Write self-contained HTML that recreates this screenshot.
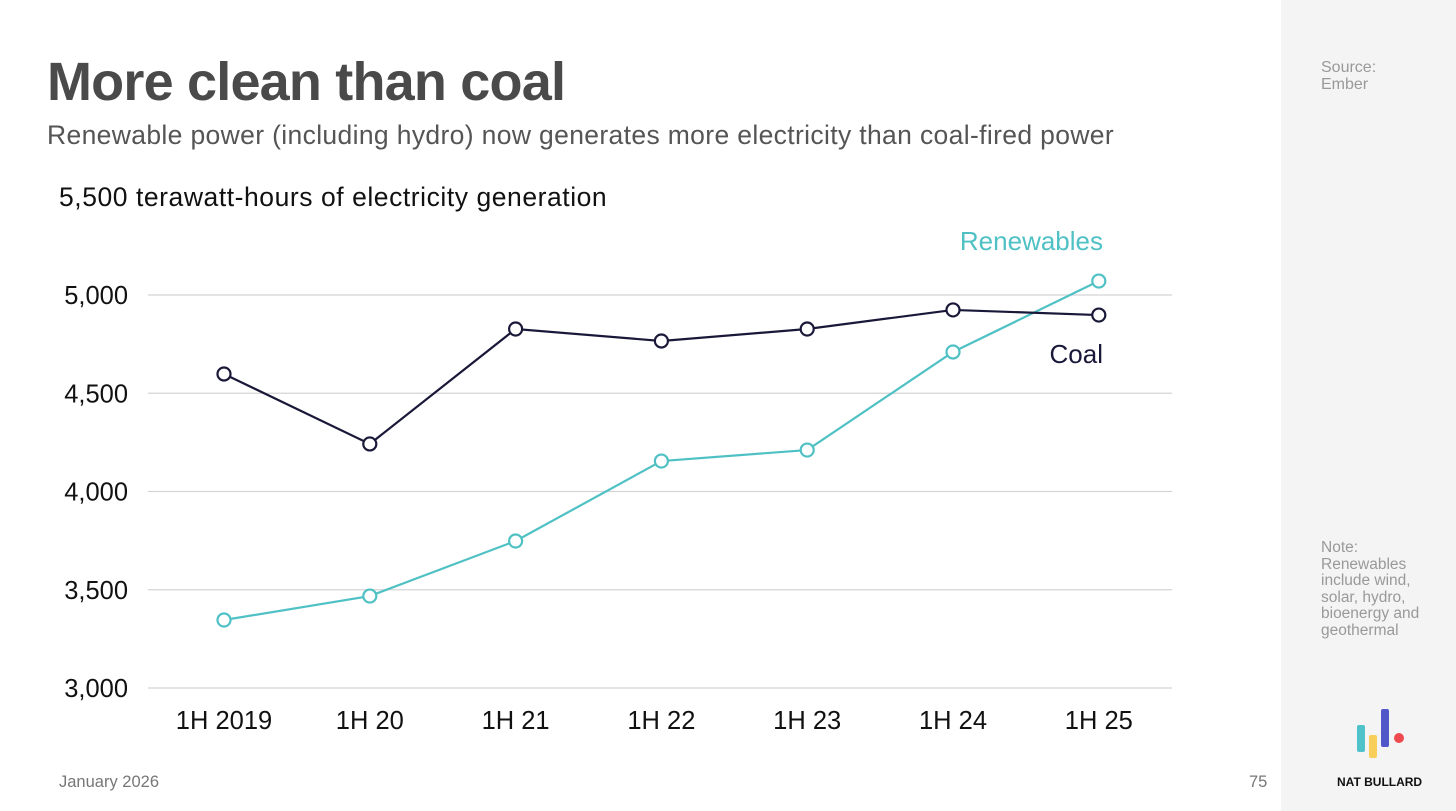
<!DOCTYPE html>
<html><head><meta charset="utf-8"><style>
body{margin:0;width:1456px;height:811px;overflow:hidden;background:#fff;font-family:"Liberation Sans",sans-serif;position:relative}
.a{position:absolute;margin:0}
</style></head><body>
<h1 class="a" style="left:47px;top:51px;font-size:54px;font-weight:bold;color:#4a4a4a;letter-spacing:-0.8px">More clean than coal</h1>
<div class="a" style="left:47px;top:120px;font-size:26.5px;color:#555;letter-spacing:0.35px">Renewable power (including hydro) now generates more electricity than coal-fired power</div>
<div class="a" style="left:59px;top:182px;font-size:26.5px;color:#111;letter-spacing:0.55px">5,500 terawatt-hours of electricity generation</div>
<div class="a" style="left:1281px;top:0;width:175px;height:811px;background:#f4f4f5"></div>
<div class="a" style="left:1321px;top:59px;font-size:16px;color:#999;line-height:17px">Source:<br>Ember</div>
<div class="a" style="left:1321px;top:540px;font-size:15.5px;color:#999;line-height:16.5px">Note:<br>Renewables<br>include wind,<br>solar, hydro,<br>bioenergy and<br>geothermal</div>
<svg class="a" style="left:1350px;top:700px" width="60" height="65">
<rect x="7" y="25" width="8" height="27" rx="2" fill="#4fc3c9"/><rect x="19" y="35" width="8" height="23" rx="2" fill="#f9cf5b"/><rect x="31" y="9" width="8" height="38" rx="2" fill="#5057c9"/><circle cx="49" cy="38" r="5" fill="#ee4a4f"/></svg>
<div class="a" style="left:1337px;top:775px;font-size:12px;font-weight:bold;color:#111">NAT BULLARD</div>
<div class="a" style="left:59px;top:773px;font-size:16.5px;color:#777">January 2026</div>
<div class="a" style="left:1249px;top:773px;font-size:16.5px;color:#777">75</div>
<svg id="chart" class="a" style="left:0;top:0" width="1280" height="811"></svg>
<script>
const categories=["1H 2019","1H 20","1H 21","1H 22","1H 23","1H 24","1H 25"];
const coal=[4598,4242,4827,4766,4827,4924,4898];
const renewables=[3346,3468,3748,4155,4211,4710,5071];
const yTicks=[3000,3500,4000,4500,5000];
const yTickLabels=["3,000","3,500","4,000","4,500","5,000"];
const svg=document.getElementById('chart');const NS="http://www.w3.org/2000/svg";
const x=i=>224+i*145.8;const y=v=>688-(v-3000)*0.1965;
function mk(t,a){const e=document.createElementNS(NS,t);for(const k in a)e.setAttribute(k,a[k]);svg.appendChild(e);return e;}
yTicks.forEach((v,i)=>{
const l=mk('line',{x1:148,x2:1172,y1:y(v),y2:y(v),stroke:'#d4d4d8','stroke-width':1.3});


const t=mk('text',{x:128,y:y(v)+9,'text-anchor':'end','font-size':25.5,fill:'#111','font-family':'Liberation Sans'});t.textContent=yTickLabels[i];


});
categories.forEach((c,i)=>{const t=mk('text',{x:x(i),y:729,'text-anchor':'middle','font-size':25.5,fill:'#111','font-family':'Liberation Sans'});t.textContent=c;

});
function series(d,col,name){
const p=mk('polyline',{points:d.map((v,i)=>x(i)+','+y(v)).join(' '),fill:'none',stroke:col,'stroke-width':2.2});


d.forEach((v,i)=>{const c=mk('circle',{cx:x(i),cy:y(v),r:6.5,fill:'#fff',stroke:col,'stroke-width':2.2});

});}
series(renewables,'#4fc1c4','renewables');
series(coal,'#1a1838','coal');
const l1=mk('text',{x:1103,y:250,'text-anchor':'end','font-size':26,fill:'#4fc1c4','font-family':'Liberation Sans'});l1.textContent='Renewables';


const l2=mk('text',{x:1103,y:363,'text-anchor':'end','font-size':26,fill:'#1a1838','font-family':'Liberation Sans'});l2.textContent='Coal';


</script>
</body></html>
